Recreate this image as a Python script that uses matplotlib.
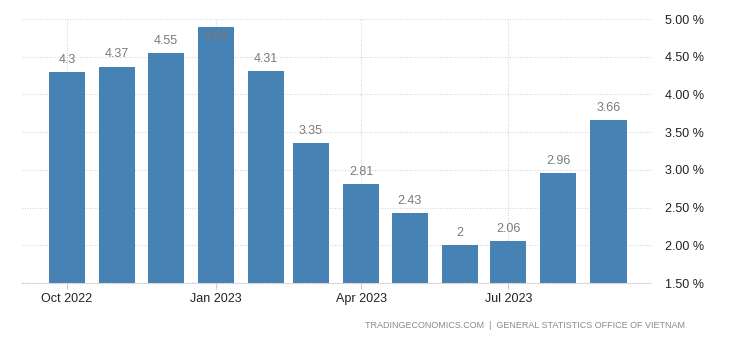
import datetime as dt

import matplotlib
matplotlib.use("Agg")
import matplotlib.pyplot as plt
import matplotlib.dates as mdates
from matplotlib.ticker import FixedLocator, FuncFormatter

months = ["2022-10", "2022-11", "2022-12", "2023-01", "2023-02", "2023-03",
          "2023-04", "2023-05", "2023-06", "2023-07", "2023-08", "2023-09"]
values = [4.30, 4.37, 4.55, 4.89, 4.31, 3.35, 2.81, 2.43, 2.00, 2.06, 2.96, 3.66]
labels = ["4.3", "4.37", "4.55", "4.89", "4.31", "3.35", "2.81", "2.43",
          "2", "2.06", "2.96", "3.66"]
tick_months = ["2022-10", "2023-01", "2023-04", "2023-07"]
tick_labels = ["Oct 2022", "Jan 2023", "Apr 2023", "Jul 2023"]
y_ticks = [1.5, 2.0, 2.5, 3.0, 3.5, 4.0, 4.5, 5.0]

plt.rcParams["font.family"] = ["Liberation Sans", "DejaVu Sans"]

BAR = "#4682B4"
GRID = "#CCCCCC"
W, H = 730, 340


def to_num(m):
    return mdates.date2num(dt.datetime.strptime(m, "%Y-%m"))


x = [to_num(m) for m in months]

fig = plt.figure(figsize=(W / 100, H / 100), dpi=100)
ax = fig.add_axes([22 / W, 1 - 283 / H, (651 - 22) / W, (283 - 19) / H])

ax.bar(x, [v - 1.5 for v in values], bottom=1.5, width=22.3,
       color=BAR, zorder=2)

for xi, v, lab in zip(x, values, labels):
    # label goes inside the bar when it would run into the top
    y = v - 0.13 if v > 4.8 else v + 0.16
    ax.text(xi, y, lab, ha="center", va="center",
            fontsize=9, color="#7a7a7a", zorder=3)

ax.set_xlim(x[0] - 27.8, x[-1] + 26.3)
ax.set_ylim(1.5, 5.0)

ax.xaxis.set_major_locator(FixedLocator([to_num(m) for m in tick_months]))
ax.set_xticklabels(tick_labels)
ax.set_yticks(y_ticks)
ax.yaxis.set_major_formatter(FuncFormatter(lambda v, _: f"{v:.2f} %"))
ax.yaxis.tick_right()

dots = (0, (0.75, 1.5))
ax.grid(True, axis="both", color=GRID, linestyle=dots, linewidth=0.8,
        zorder=0)
for s in ax.spines.values():
    s.set_visible(False)
ax.spines["bottom"].set_visible(True)
ax.spines["bottom"].set_color(GRID)
ax.spines["bottom"].set_linestyle(dots)
ax.spines["bottom"].set_linewidth(0.8)
ax.spines["bottom"].set_zorder(3)

ax.tick_params(axis="y", length=0, pad=10, labelsize=9, labelcolor="#222222")
ax.tick_params(axis="x", length=4, color=GRID, pad=3, labelsize=9,
               labelcolor="#222222")

fig.text(685 / W, 1 - 325 / H,
         "TRADINGECONOMICS.COM  |  GENERAL STATISTICS OFFICE OF VIETNAM",
         ha="right", va="center", fontsize=6.5, color="#8a8a8a")

fig.savefig("out.png", dpi=100)
